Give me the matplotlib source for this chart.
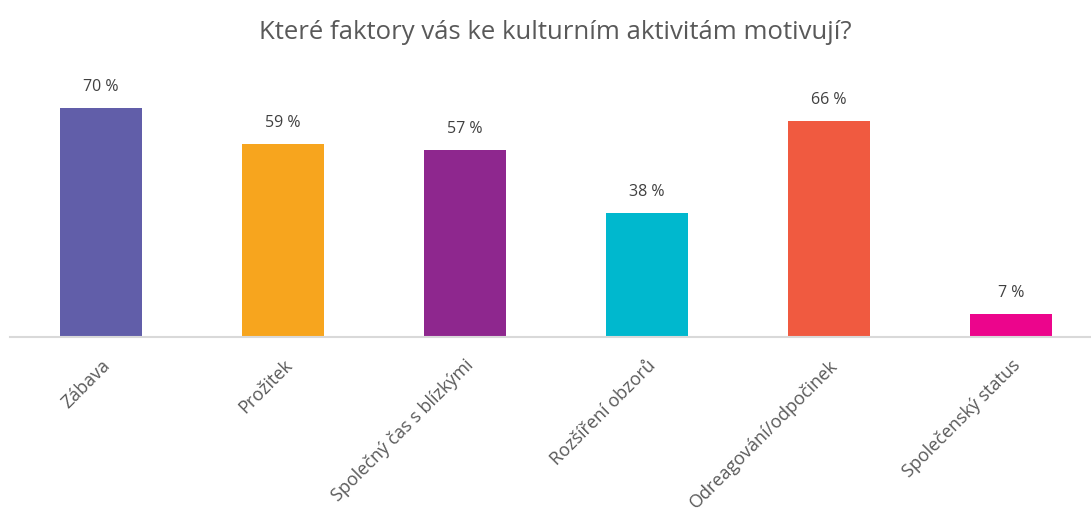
import matplotlib.pyplot as plt

# Data
categories = ['Zábava', 'Prožitek', 'Společný čas s blízkými', 'Rozšíření obzorů',
              'Odreagování/odpočinek', 'Společenský status']
values = [70, 59, 57, 38, 66, 7]
colors = ['#615EA9', '#F7A51E', '#8E278E', '#00B8CE', '#F05A40', '#EC058C']

plt.rcParams['font.family'] = ['Open Sans', 'DejaVu Sans']

fig = plt.figure(figsize=(10.91, 5.09), dpi=100)
ax = fig.add_axes([10 / 1091, (509 - 337) / 509, 1081 / 1091, 262 / 509])

x = range(len(categories))
bars = ax.bar(x, values, width=0.455, color=colors, zorder=2)

for xi, v in zip(x, values):
    ax.text(xi, v + 6.4, f'{v} %', ha='center', va='center', fontsize=11.5, color='#404040')

ax.set_xlim(-0.5, 5.44)
ax.set_ylim(0, 80)
ax.set_yticks([])
ax.set_xticks(list(x))
ax.set_xticklabels(categories, rotation=45, ha='right', rotation_mode='anchor',
                   fontsize=13, color='#595959')
ax.tick_params(axis='x', length=0, pad=14)

for side in ['top', 'right', 'left']:
    ax.spines[side].set_visible(False)
ax.spines['bottom'].set_color('#D9D9D9')
ax.spines['bottom'].set_linewidth(1.5)

fig.text(0.509, 0.937, 'Které faktory vás ke kulturním aktivitám motivují?',
         ha='center', va='center', fontsize=18.5, color='#595959')

fig.savefig('out.png', dpi=100)
